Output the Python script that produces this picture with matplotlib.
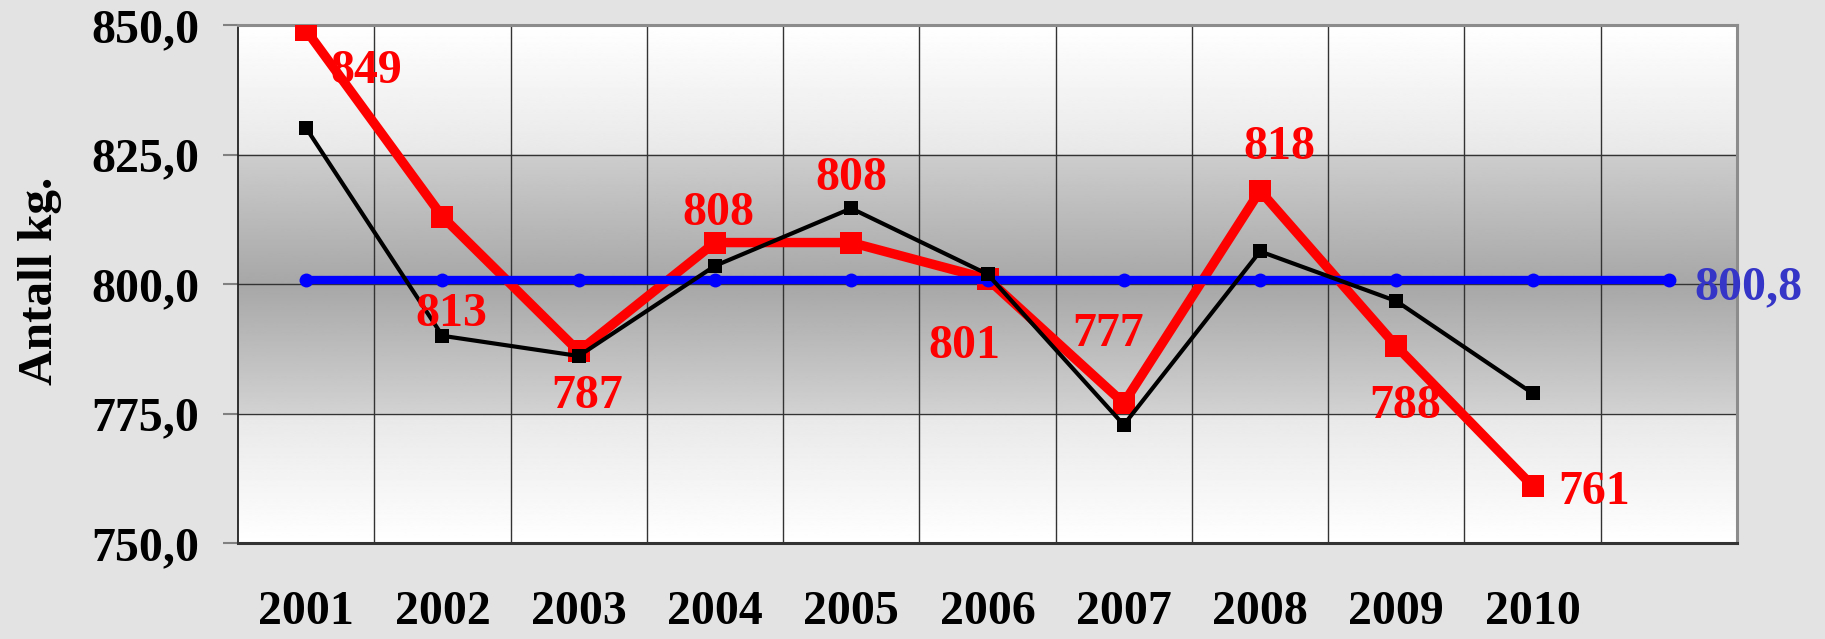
import numpy as np
import matplotlib
matplotlib.use("Agg")
import matplotlib.pyplot as plt

# values
years = ["2001", "2002", "2003", "2004", "2005", "2006", "2007", "2008", "2009", "2010"]
red_values = [849, 813, 787, 808, 808, 801, 777, 818, 788, 761]
black_values = [830.1, 790.0, 786.1, 803.5, 814.6, 801.9, 772.8, 806.3, 796.7, 778.9]
mean_value = 800.8
n_mean_points = 11
y_ticks = [750, 775, 800, 825, 850]
y_tick_labels = ["750,0", "775,0", "800,0", "825,0", "850,0"]

# label offsets in pixels (dx, dy) from each red point, baseline-anchored
red_label_offsets = [(60, -53), (9, -109), (8, -57), (3, 18), (0, 53),
                     (-23, -79), (-16, 57), (19, 32), (9, -72), (62, -18)]

plt.rcParams['font.family'] = ['Liberation Serif', 'DejaVu Serif']
plt.rcParams['font.weight'] = 'bold'
FS = 34.5

fig = plt.figure(figsize=(18.25, 6.39), dpi=100)
fig.patch.set_facecolor('#e3e3e3')
ax = fig.add_axes([238 / 1825, 1 - 543 / 639, (1737 - 238) / 1825, (543 - 25) / 639])

# gradient background of the plot area
yy = np.linspace(750, 850, 600)
stops_v = [750, 774.99, 775, 800, 825, 825.01, 850]
stops_g = [255, 232, 210, 167, 205, 232, 255]
g = np.interp(yy, stops_v, stops_g) / 255.0
img = np.repeat(g[:, None], 2, axis=1)
ax.imshow(img, cmap='gray', vmin=0, vmax=1, aspect='auto', origin='lower',
          extent=[0, 11, 750, 850], zorder=0, interpolation='bilinear')

ax.set_xlim(0, 11)
ax.set_ylim(750, 850)

# grid lines
for xv in range(1, 11):
    ax.axvline(xv, color='#333333', lw=1.0, zorder=1)
for yv in y_ticks[1:-1]:
    ax.axhline(yv, color='#333333', lw=1.0, zorder=1)

xpos = np.arange(len(years)) + 0.5
mean_x = np.arange(n_mean_points) + 0.5

ax.plot(xpos, red_values, color='#ff0000', lw=6.8, marker='s', markersize=16.5,
        markeredgewidth=0, zorder=3, solid_joinstyle='miter')
ax.plot(mean_x, [mean_value] * n_mean_points, color='#0000ff', lw=6, marker='o',
        markersize=10, markeredgewidth=0, zorder=4)
ax.plot(xpos, black_values, color='black', lw=3, marker='s', markersize=10,
        markeredgewidth=0, zorder=5)

for x, v, (dx, dy) in zip(xpos, red_values, red_label_offsets):
    ax.annotate(str(v), (x, v), xytext=(dx, dy), textcoords='offset pixels',
                ha='center', va='baseline', color='#ff0000', fontsize=FS,
                fontweight='bold', zorder=6, annotation_clip=False)

ax.annotate(f"{mean_value:.1f}".replace('.', ','), (mean_x[-1], mean_value),
            xytext=(80, -19), textcoords='offset pixels', ha='center',
            va='baseline', color='#3535c8', fontsize=FS, fontweight='bold',
            zorder=6, annotation_clip=False)

ax.set_yticks(y_ticks)
ax.set_yticklabels(y_tick_labels, fontsize=FS, fontweight='bold')
ax.set_xticks(xpos)
ax.set_xticklabels(years, fontsize=FS, fontweight='bold')
ax.tick_params(axis='y', length=11, width=1.5, color='#808080', pad=17)
ax.tick_params(axis='x', length=0, pad=34)

for side in ['top', 'right']:
    ax.spines[side].set_color('#8c8c8c')
    ax.spines[side].set_linewidth(2.2)
ax.spines['left'].set_color('#222222')
ax.spines['left'].set_linewidth(1.3)
ax.spines['bottom'].set_color('#333333')
ax.spines['bottom'].set_linewidth(2.2)

fig.text(40 / 1825, 1 - 281 / 639, "Antall kg.", rotation=90, ha='center',
         va='center', fontsize=35.5, fontweight='bold')

fig.savefig("out.png", dpi=100, facecolor=fig.get_facecolor())
